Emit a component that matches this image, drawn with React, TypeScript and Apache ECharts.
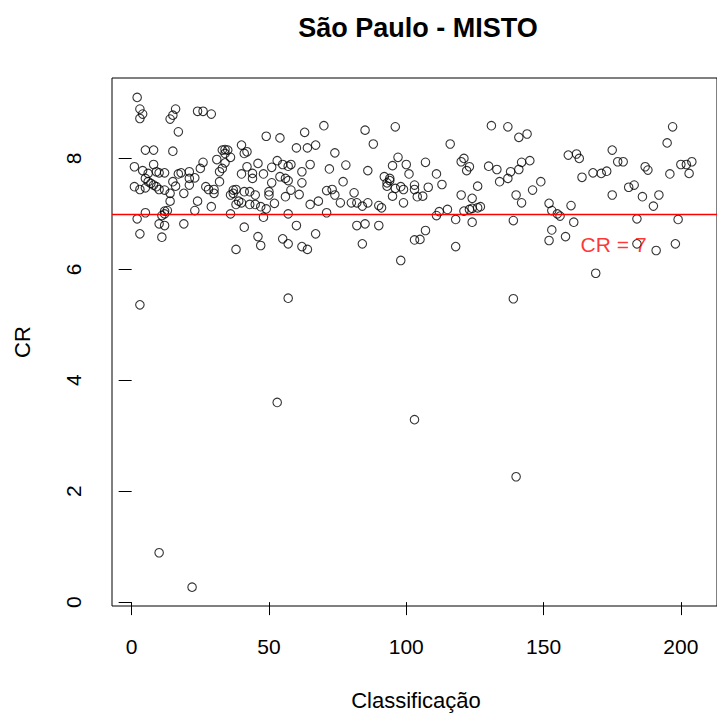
import React, { useEffect, useRef } from "react";
import * as echarts from "echarts";

const titulo = "São Paulo - MISTO";
const nomeX = "Classificação";
const nomeY = "CR";
const xTicks = [0, 50, 100, 150, 200];
const yTicks = [0, 2, 4, 6, 8];
const limiteCR = 7;
const rotuloCR = { x: 175.5, y: 6.44, texto: "CR = 7" };

const classificacao = [
  2, 3, 4, 3, 16, 15, 14, 24, 26, 29, 17, 5, 8, 15, 1, 8, 4, 6, 9, 10,
  12, 17, 18, 21, 26, 25, 23, 21, 31, 5, 6, 7, 1, 3, 5, 8, 9, 10, 12, 16,
  15, 21, 19, 27, 28, 30, 30, 14, 14, 24, 29, 23, 5, 2, 12, 13, 12, 11, 10, 12,
  19, 3, 11, 3, 10, 22,
  49, 54, 63, 60, 64, 67, 40, 42, 41, 33, 34, 35, 34, 36, 34, 33, 32, 42, 46, 40,
  44, 44, 48, 51, 53, 55, 57, 58, 62, 65, 51, 54, 56, 57, 62, 32, 37, 38, 37, 36,
  41, 43, 45, 50, 50, 58, 61, 56, 39, 40, 38, 43, 45, 47, 49, 52, 65, 68, 36, 48,
  57, 41, 60, 67, 46, 47, 55, 57, 38, 62, 64, 57, 53,
  70, 85, 96, 88, 74, 72, 78, 86, 97, 95, 100, 101, 77, 92, 94, 93, 94, 93, 96, 98,
  99, 95, 99, 103, 103, 71, 73, 74, 81, 76, 80, 82, 84, 86, 90, 91, 71, 82, 85, 90,
  84, 98, 103, 103,
  131, 137, 116, 107, 121, 120, 123, 122, 130, 133, 138, 137, 134, 111, 113, 126, 104, 106, 108, 120,
  124, 140, 111, 112, 115, 118, 121, 123, 124, 126, 127, 124, 139, 107, 105, 118, 139, 140,
  141, 144, 175, 159, 162, 163, 141, 142, 145, 164, 168, 171, 173, 149, 146, 142, 175, 152, 153, 155,
  156, 160, 161, 153, 152, 158, 169,
  197, 195, 177, 179, 187, 188, 200, 202, 204, 203, 196, 181, 183, 186, 192, 190, 184, 199, 184, 191,
  198,
];

const cr = [
  9.1, 8.89, 8.8, 8.72, 8.89, 8.78, 8.71, 8.85, 8.85, 8.8, 8.48, 8.15, 8.15, 8.13, 7.85, 7.89, 7.78, 7.73, 7.76, 7.74,
  7.74, 7.72, 7.74, 7.76, 7.93, 7.82, 7.65, 7.64, 7.98, 7.64, 7.58, 7.55, 7.49, 7.44, 7.47, 7.52, 7.49, 7.44, 7.43, 7.5,
  7.58, 7.52, 7.37, 7.49, 7.44, 7.44, 7.37, 7.37, 7.23, 7.23, 7.13, 7.06, 7.02, 6.91, 7.05, 7.06, 7.0, 6.97, 6.82, 6.79,
  6.82, 6.64, 6.58, 5.36, 0.89, 0.27,
  8.4, 8.37, 8.47, 8.19, 8.19, 8.24, 8.24, 8.12, 8.09, 8.15, 8.16, 8.15, 8.09, 8.02, 7.92, 7.82, 7.76, 7.85, 7.91, 7.72,
  7.73, 7.64, 7.72, 7.84, 7.96, 7.89, 7.86, 7.89, 7.76, 7.89, 7.56, 7.67, 7.64, 7.6, 7.56, 7.58, 7.43, 7.44, 7.37, 7.34,
  7.4, 7.4, 7.34, 7.4, 7.34, 7.43, 7.35, 7.31, 7.23, 7.2, 7.17, 7.17, 7.17, 7.13, 7.09, 7.19, 7.17, 7.23, 7.0, 6.94,
  7.0, 6.76, 6.79, 6.64, 6.59, 6.43, 6.55, 6.46, 6.36, 6.41, 6.36, 5.48, 3.6,
  8.59, 8.51, 8.57, 8.26, 8.1, 7.81, 7.88, 7.78, 8.02, 7.87, 7.89, 7.72, 7.58, 7.67, 7.64, 7.56, 7.6, 7.5, 7.46, 7.49,
  7.44, 7.32, 7.2, 7.52, 7.44, 7.42, 7.44, 7.34, 7.38, 7.2, 7.2, 7.2, 7.14, 7.2, 7.15, 7.11, 7.02, 6.79, 6.82, 6.79,
  6.46, 6.16, 6.53, 3.29,
  8.59, 8.57, 8.26, 7.93, 8.0, 7.94, 7.85, 7.78, 7.86, 7.8, 7.76, 7.64, 7.58, 7.72, 7.53, 7.5, 7.31, 7.32, 7.48, 7.34,
  7.28, 7.34, 6.97, 7.04, 7.08, 6.9, 7.05, 7.08, 7.1, 7.11, 7.13, 6.85, 6.88, 6.7, 6.54, 6.41, 5.47, 2.26,
  8.38, 8.44, 8.15, 8.06, 8.08, 8.0, 7.8, 7.93, 7.96, 7.66, 7.74, 7.73, 7.77, 7.58, 7.43, 7.2, 7.34, 7.19, 7.06, 7.0,
  6.96, 7.15, 6.85, 6.71, 6.52, 6.59, 5.93,
  8.57, 8.28, 7.94, 7.94, 7.85, 7.79, 7.89, 7.89, 7.94, 7.73, 7.72, 7.48, 7.52, 7.31, 7.34, 7.14, 6.91, 6.9, 6.46, 6.34,
  6.46,
];

const FONT = "'Liberation Sans', Arial, Helvetica, sans-serif";

export default function App() {
  const ref = useRef<HTMLDivElement>(null);

  useEffect(() => {
    document.body.style.margin = "0";
    const chart = echarts.init(ref.current!, null, { renderer: "svg" });
    const pontos = classificacao.map((x, i) => [x, cr[i]]);

    chart.setOption({
      animation: false,
      backgroundColor: "#ffffff",
      textStyle: { fontFamily: FONT },
      grid: {
        left: 112,
        top: 78,
        width: 612,
        height: 528,
        show: true,
        borderColor: "#000",
        borderWidth: 1,
        backgroundColor: "transparent",
      },
      xAxis: {
        type: "value",
        min: -7.16,
        max: 213.16,
        splitLine: { show: false },
        axisLine: { show: false },
        axisTick: {
          show: true,
          customValues: xTicks,
          length: 13,
          lineStyle: { color: "#000", width: 1 },
        },
        axisLabel: {
          customValues: xTicks,
          margin: 30,
          fontSize: 21,
          color: "#000",
          fontFamily: FONT,
        },
      },
      yAxis: {
        type: "value",
        min: -0.07,
        max: 9.45,
        splitLine: { show: false },
        axisLine: { show: false },
        axisTick: {
          show: true,
          customValues: yTicks,
          length: 13,
          lineStyle: { color: "#000", width: 1 },
        },
        axisLabel: {
          customValues: yTicks,
          rotate: 90,
          margin: 28,
          fontSize: 21,
          color: "#000",
          fontFamily: FONT,
        },
      },
      graphic: [
        {
          type: "text",
          x: 418,
          y: 28,
          style: {
            text: titulo,
            fontSize: 27,
            fontWeight: "bold",
            fontFamily: FONT,
            fill: "#000",
            textAlign: "center",
            textVerticalAlign: "middle",
          },
        },
        {
          type: "text",
          x: 416,
          y: 700,
          style: {
            text: nomeX,
            fontSize: 22,
            fontFamily: FONT,
            fill: "#000",
            textAlign: "center",
            textVerticalAlign: "middle",
          },
        },
        {
          type: "text",
          x: 22,
          y: 342,
          rotation: Math.PI / 2,
          style: {
            text: nomeY,
            fontSize: 22,
            fontFamily: FONT,
            fill: "#000",
            textAlign: "center",
            textVerticalAlign: "middle",
          },
        },
      ],
      series: [
        {
          type: "scatter",
          data: pontos,
          symbol: "circle",
          symbolSize: 8.5,
          itemStyle: {
            color: "rgba(0,0,0,0)",
            borderColor: "#000",
            borderWidth: 1.1,
          },
          markLine: {
            silent: true,
            symbol: ["none", "none"],
            label: { show: false },
            lineStyle: { color: "#ff0000", width: 1.3, type: "solid" },
            data: [{ yAxis: limiteCR }],
          },
          z: 3,
        },
        {
          type: "scatter",
          data: [[rotuloCR.x, rotuloCR.y]],
          symbolSize: 1,
          itemStyle: { color: "rgba(0,0,0,0)" },
          label: {
            show: true,
            position: "inside",
            formatter: rotuloCR.texto,
            color: "#ff0000",
            fontSize: 21,
            fontFamily: FONT,
          },
          z: 4,
        },
      ],
    });

    return () => chart.dispose();
  }, []);

  return <div ref={ref} style={{ width: 717, height: 713 }} />;
}
